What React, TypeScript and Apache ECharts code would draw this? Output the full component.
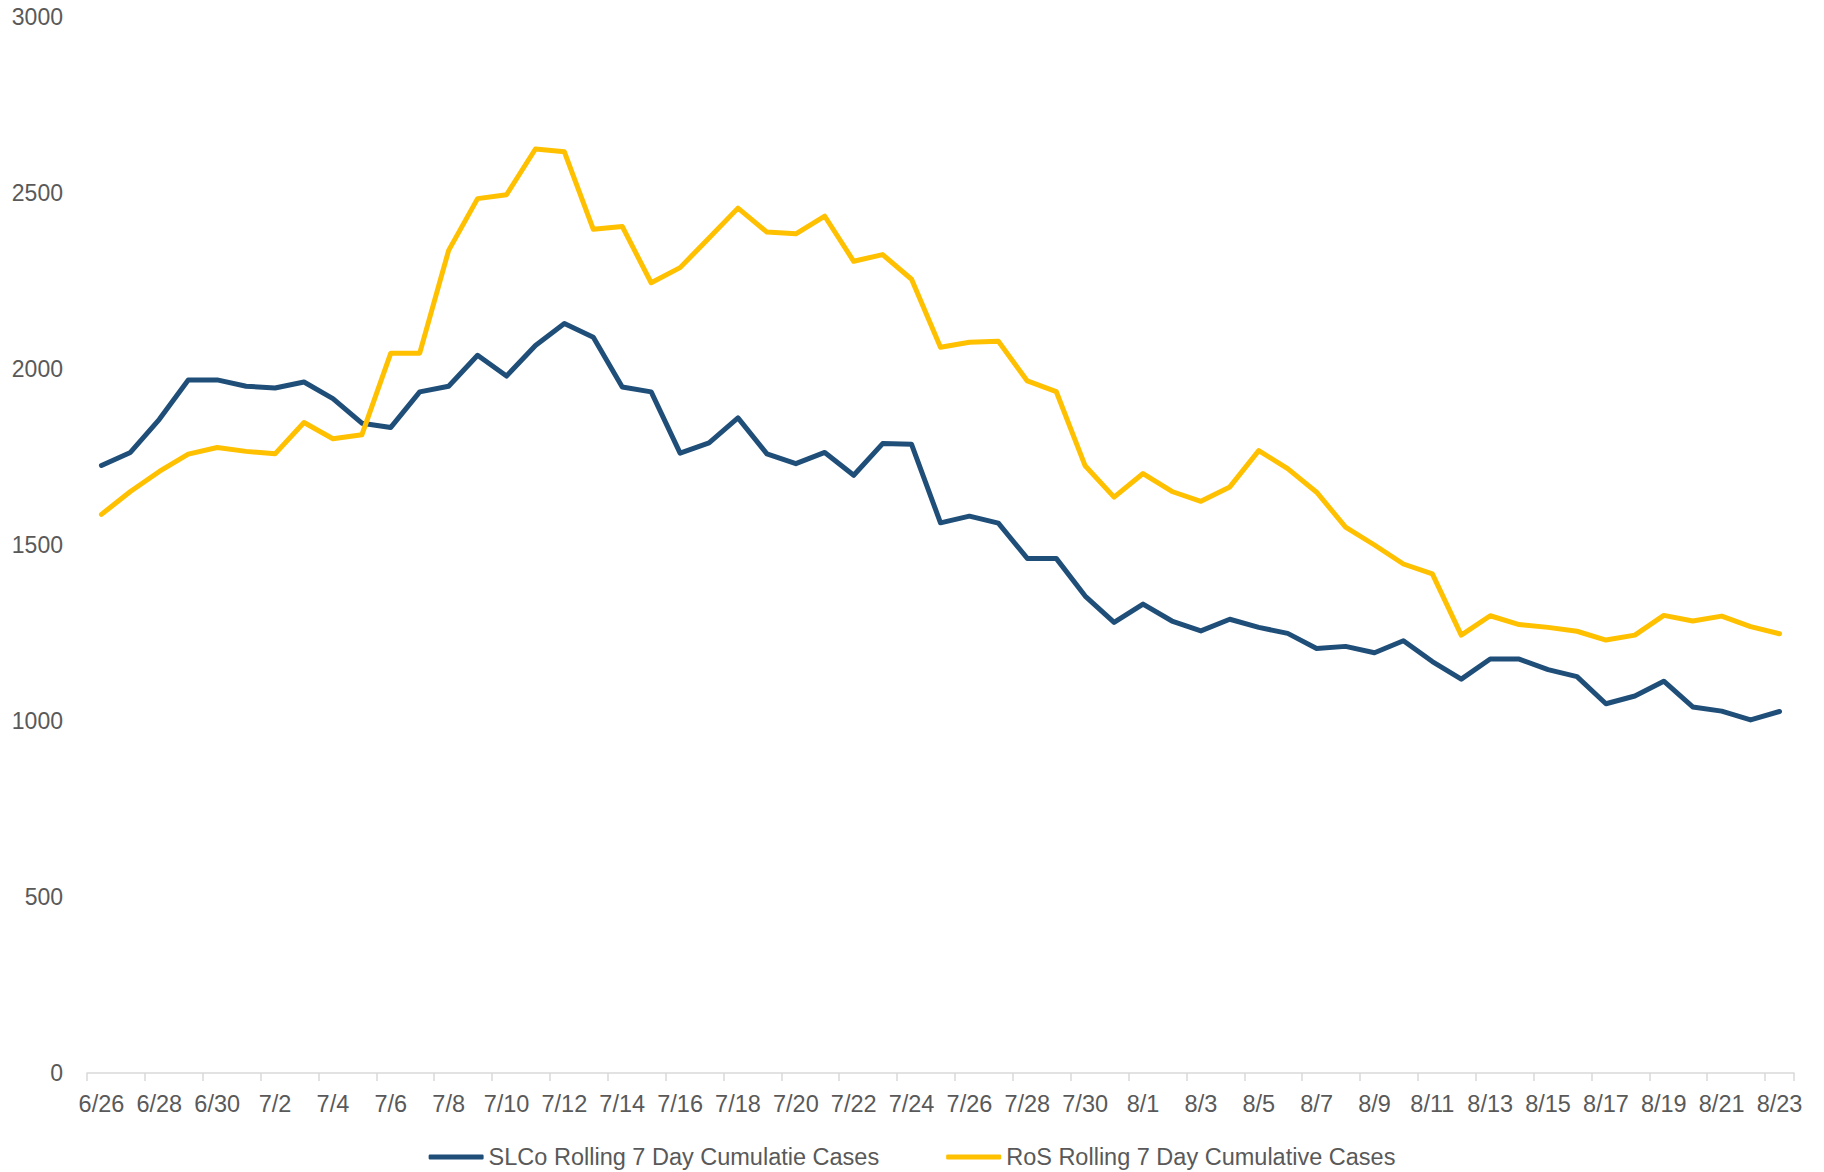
import React, { useEffect, useRef } from "react";
import * as echarts from "echarts";

const dates: string[] = [
  "6/26", "6/27", "6/28", "6/29", "6/30",
  "7/1", "7/2", "7/3", "7/4", "7/5", "7/6", "7/7", "7/8", "7/9", "7/10",
  "7/11", "7/12", "7/13", "7/14", "7/15", "7/16", "7/17", "7/18", "7/19", "7/20",
  "7/21", "7/22", "7/23", "7/24", "7/25", "7/26", "7/27", "7/28", "7/29", "7/30", "7/31",
  "8/1", "8/2", "8/3", "8/4", "8/5", "8/6", "8/7", "8/8", "8/9", "8/10",
  "8/11", "8/12", "8/13", "8/14", "8/15", "8/16", "8/17", "8/18", "8/19", "8/20",
  "8/21", "8/22", "8/23",
];

const slcoName = "SLCo Rolling 7 Day Cumulatie Cases";
const slcoValues: number[] = [
  1726, 1763, 1857, 1969, 1969,
  1951, 1946, 1963, 1916, 1846, 1834, 1935, 1951, 2039, 1980,
  2067, 2129, 2090, 1949, 1935, 1761, 1790, 1861, 1759, 1731,
  1763, 1698, 1788, 1786, 1563, 1582, 1562, 1462, 1462, 1355, 1280,
  1332, 1284, 1256, 1289, 1266, 1249, 1206, 1212, 1194, 1228,
  1169, 1119, 1176, 1176, 1146, 1126, 1049, 1071, 1113, 1040,
  1028, 1003, 1027,
];

const rosName = "RoS Rolling 7 Day Cumulative Cases";
const rosValues: number[] = [
  1587, 1652, 1709, 1758, 1777,
  1766, 1759, 1848, 1802, 1813, 2045, 2045, 2337, 2484, 2495,
  2625, 2617, 2397, 2405, 2245, 2288, 2372, 2457, 2389, 2384,
  2434, 2306, 2325, 2255, 2062, 2076, 2079, 1966, 1936, 1725, 1636,
  1703, 1652, 1624, 1665, 1768, 1717, 1650, 1551, 1500, 1446,
  1418, 1244, 1299, 1274, 1266, 1255, 1230, 1244, 1300, 1284,
  1298, 1268, 1248,
];

const yMin = 0;
const yMax = 3000;
const yStep = 500;

const FONT = "'Liberation Sans', Arial, sans-serif";
const TEXT_COLOR = "#595959";
const AXIS_COLOR = "#d9d9d9";
const BLUE = "#1f4e79";
const GOLD = "#ffc000";

export default function App() {
  const ref = useRef<HTMLDivElement>(null);

  useEffect(() => {
    if (!ref.current) return;
    const chart = echarts.init(ref.current, undefined, { renderer: "svg" });
    chart.setOption({
      animation: false,
      backgroundColor: "#ffffff",
      textStyle: { fontFamily: FONT },
      grid: { left: 87, right: 30, top: 17, bottom: 99, containLabel: false },
      legend: {
        top: 1140,
        left: "center",
        itemGap: 67,
        itemWidth: 55,
        itemHeight: 5,
        icon: "roundRect",
        textStyle: { fontSize: 23.5, color: TEXT_COLOR, fontFamily: FONT },
        data: [slcoName, rosName],
      },
      xAxis: {
        type: "category",
        data: dates,
        boundaryGap: true,
        axisLine: { show: true, lineStyle: { color: AXIS_COLOR, width: 1.5 } },
        axisTick: { show: true, interval: 1, length: 8, lineStyle: { color: AXIS_COLOR, width: 1.5 } },
        axisLabel: { interval: 1, fontSize: 23.5, color: TEXT_COLOR, margin: 19, fontFamily: FONT },
        splitLine: { show: false },
      },
      yAxis: {
        type: "value",
        min: yMin,
        max: yMax,
        interval: yStep,
        axisLine: { show: false },
        axisTick: { show: false },
        splitLine: { show: false },
        axisLabel: {
          fontSize: 23,
          color: TEXT_COLOR,
          margin: 24,
          fontFamily: FONT,
          formatter: (v: number) => String(v),
        },
      },
      series: [
        {
          name: slcoName,
          type: "line",
          data: slcoValues,
          symbol: "none",
          lineStyle: { color: BLUE, width: 5, cap: "round", join: "round" },
          itemStyle: { color: BLUE },
        },
        {
          name: rosName,
          type: "line",
          data: rosValues,
          symbol: "none",
          lineStyle: { color: GOLD, width: 5, cap: "round", join: "round" },
          itemStyle: { color: GOLD },
        },
      ],
    });
    return () => chart.dispose();
  }, []);

  return (
    <div
      ref={ref}
      style={{ position: "fixed", left: 0, top: 0, width: 1824, height: 1172, background: "#fff" }}
    />
  );
}
